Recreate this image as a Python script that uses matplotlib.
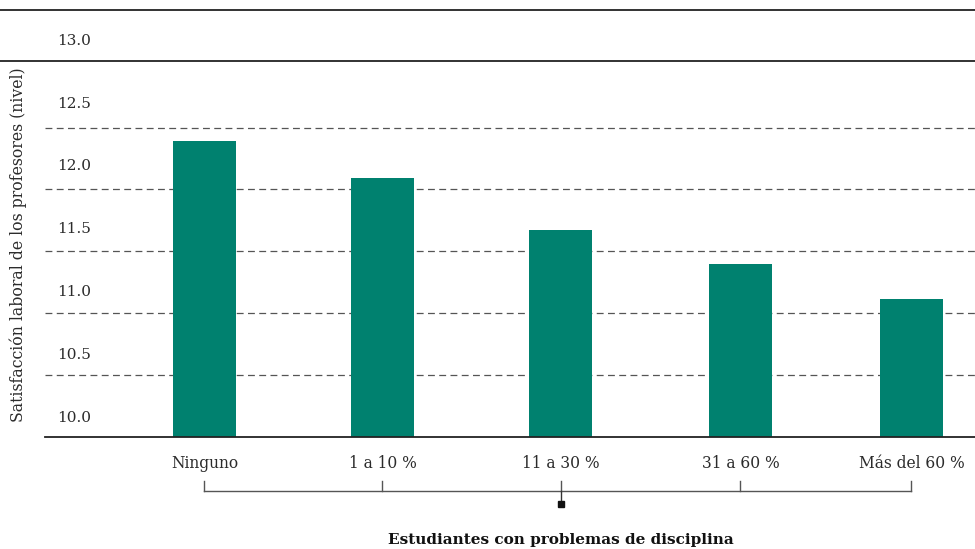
import matplotlib.pyplot as plt
import matplotlib.transforms as mtransforms
from matplotlib.lines import Line2D

categories = ['Ninguno', '1 a 10 %', '11 a 30 %', '31 a 60 %', 'Más del 60 %']
values = [12.39, 12.09, 11.67, 11.40, 11.11]
yticks = [10.0, 10.5, 11.0, 11.5, 12.0, 12.5, 13.0]
ylabel = 'Satisfacción laboral de los profesores (nivel)'
xlabel = 'Estudiantes con problemas de disciplina'

x_pos = [0, 1, 2.003, 3.011, 3.972]
bar_color = '#00816F'
text_color = '#2b2b2b'
serif = ['DejaVu Serif']

W, H = 975, 549
fig = plt.figure(figsize=(9.75, 5.49), dpi=100)

# axes box in pixel terms
left, right, top, bottom = 45, 975, 61, 436.5
ax = fig.add_axes([left / W, 1 - bottom / H, (right - left) / W, (bottom - top) / H])

ax.bar(x_pos, values, width=0.354, color=bar_color, zorder=3)
ax.set_xlim(-0.896, 4.329)
ax.set_ylim(10.0, 13.04)

for s in ['top', 'right', 'left']:
    ax.spines[s].set_visible(False)
ax.spines['bottom'].set_color('#222222')
ax.spines['bottom'].set_linewidth(1.3)
ax.spines['bottom'].set_zorder(4)
ax.set_xticks([])
ax.set_yticks([])

# dashed grid lines
for v in yticks[1:-1]:
    ax.axhline(v, color='#555555', lw=0.9, dashes=(5.5, 3.5), zorder=1)

# y tick labels sit above their lines
for v in yticks:
    off = mtransforms.offset_copy(ax.transData, fig=fig, x=0,
                                  y=19 + (v - 10.0) * 2, units='dots')
    blend = mtransforms.blended_transform_factory(ax.transAxes, off)
    ax.text(12 / (right - left), v, '%.1f' % v, transform=blend, ha='left',
            va='center', fontsize=11, family=serif, color=text_color)

# frame lines across full width
fig.add_artist(Line2D([0, 1], [1 - 10 / H, 1 - 10 / H], color='#222222', lw=1.3))
fig.add_artist(Line2D([0, 1], [1 - 61 / H, 1 - 61 / H], color='#222222', lw=1.3))

fig.text(18 / W, 1 - 245 / H, ylabel, rotation=90, ha='center', va='center',
         fontsize=11.3, family=serif, color=text_color)

# category labels and bracket
bt = mtransforms.blended_transform_factory(ax.transData, fig.transFigure)
for x, c in zip(x_pos, categories):
    ax.text(x, 1 - 463 / H, c, transform=bt, ha='center', va='center',
            fontsize=11.2, family=serif, color=text_color)
    ax.add_line(Line2D([x, x], [1 - 481 / H, 1 - 490.7 / H], transform=bt,
                       color='#555555', lw=1.0, clip_on=False))
ax.add_line(Line2D([x_pos[0], x_pos[-1]], [1 - 490.7 / H, 1 - 490.7 / H], transform=bt,
                   color='#555555', lw=1.0, clip_on=False))
mid = x_pos[2]
ax.add_line(Line2D([mid, mid], [1 - 490.7 / H, 1 - 501 / H], transform=bt,
                   color='#333333', lw=1.0, clip_on=False))
ax.add_line(Line2D([mid], [1 - 504 / H], transform=bt, marker='s', markersize=5,
                   color='#111111', clip_on=False))

ax.text(mid, 1 - 540 / H, xlabel, transform=bt, ha='center', va='center',
        fontsize=11, fontweight='bold', family=serif, color='#111111')

fig.savefig('out.png', dpi=100)
